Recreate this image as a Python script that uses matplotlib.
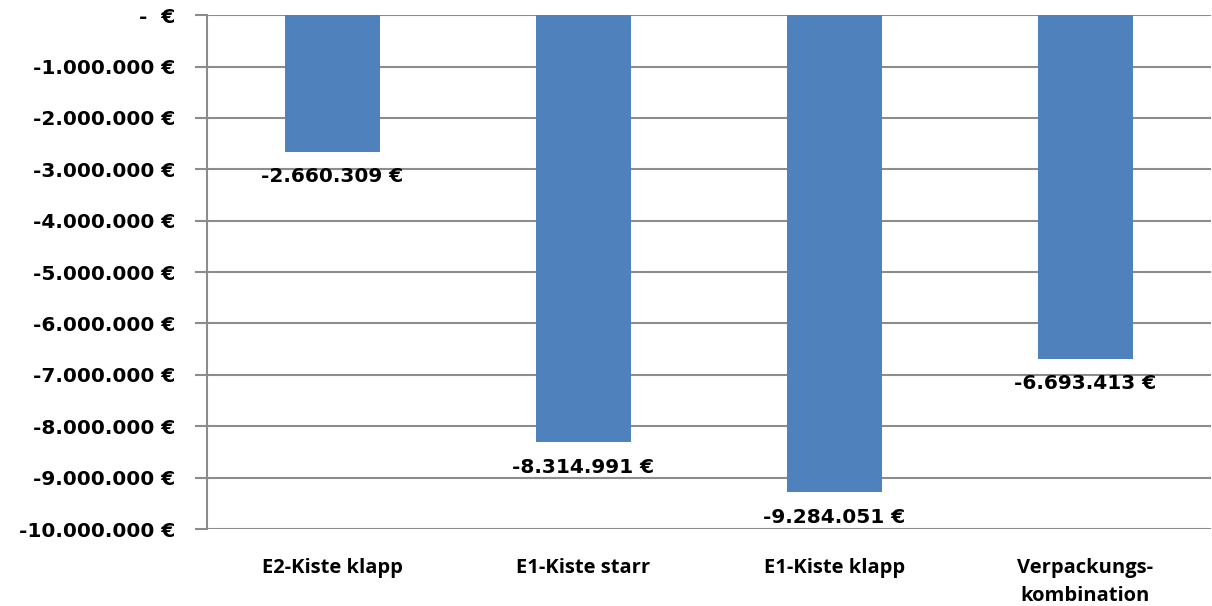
import matplotlib.pyplot as plt
import matplotlib
from matplotlib.ticker import FuncFormatter
import numpy as np

matplotlib.rcParams['font.family'] = ['Open Sans', 'DejaVu Sans']
matplotlib.rcParams['font.weight'] = 'bold'

kategorien = ['E2-Kiste klapp', 'E1-Kiste starr', 'E1-Kiste klapp', 'Verpackungs-\nkombination']
werte = [-2660309, -8314991, -9284051, -6693413]
y_ticks = [0, -1e6, -2e6, -3e6, -4e6, -5e6, -6e6, -7e6, -8e6, -9e6, -10e6]

blau = '#4F81BD'
grau = '#8C8C8C'
zahl_font = {'family': 'DejaVu Sans', 'weight': 'bold', 'size': 14.5}


def euro(v, pos=None):
    # Excel-Buchhaltungsformat: Punkt als Tausendertrenner, Null als "-"
    if v == 0:
        return '-  €'
    s = '{:,.0f}'.format(v).replace(',', '.')
    return s + ' €'


fig = plt.figure(figsize=(12.12, 6.06), dpi=100)
ax = fig.add_axes([0.1708, 0.127, 0.8282, 0.848])

x = np.arange(len(kategorien))
ax.bar(x, werte, width=0.38, color=blau, zorder=3)

for xi, w in zip(x, werte):
    ax.annotate(euro(w), (xi, w), xytext=(0, -11), textcoords='offset points',
                ha='center', va='top', color='black', **zahl_font)

ax.set_ylim(-10e6, 0)
ax.set_xlim(-0.5, len(kategorien) - 0.5)
ax.set_yticks(y_ticks)
ax.yaxis.set_major_formatter(FuncFormatter(euro))
ax.grid(axis='y', color=grau, linewidth=1.5, zorder=0)
ax.tick_params(axis='y', length=8.5, width=1.5, color=grau, pad=14.5,
               labelsize=zahl_font['size'], labelfontfamily=zahl_font['family'])

ax.set_xticks(x)
ax.set_xticklabels(kategorien, fontsize=14.5, linespacing=1.55)
ax.tick_params(axis='x', length=0, pad=21)

for s in ['top', 'right', 'bottom']:
    ax.spines[s].set_visible(False)
ax.spines['left'].set_color(grau)
ax.spines['left'].set_linewidth(1.5)

plt.savefig('out.png', dpi=100)
